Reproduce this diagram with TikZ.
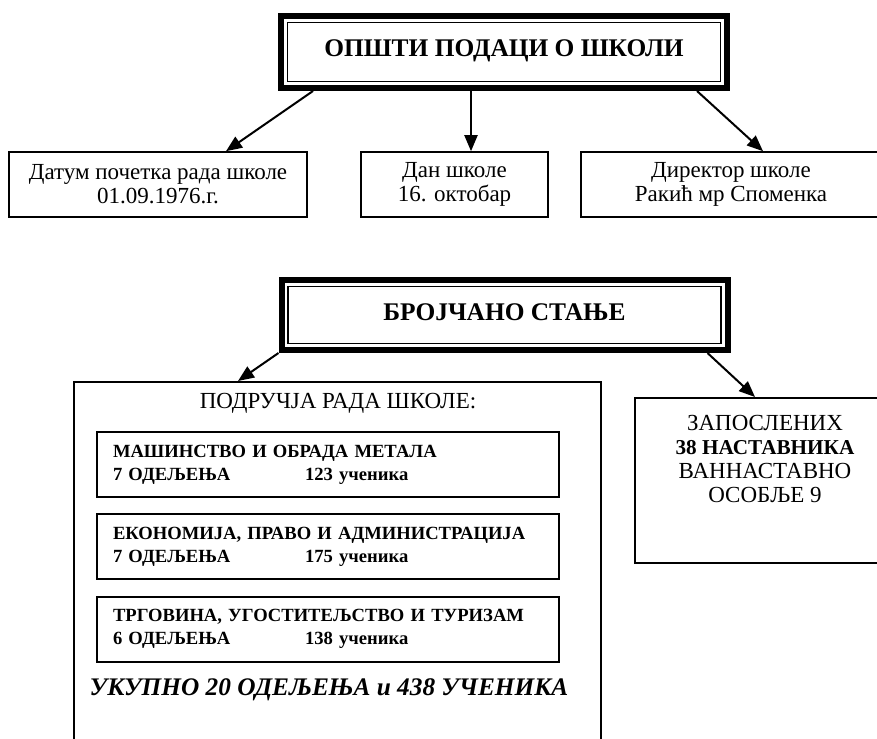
\documentclass[tikz,border=0pt]{standalone}
\usepackage{fontspec}
\setmainfont{Liberation Serif}
\usepackage{tikz}
\usetikzlibrary{positioning, calc}
\usetikzlibrary{arrows.meta}

\tikzset{
	naslov/.style={draw, line width=3pt, minimum width=223pt, inner sep=0pt, font=\fontsize{12.7}{14}\selectfont\bfseries},
	kutija/.style={draw, line width=0.8pt, minimum height=32.5pt, inner sep=0pt, align=center, font=\fontsize{11.5}{12}\selectfont},
	okvir/.style={draw, line width=1pt, inner sep=0pt},
	podrucje/.style={draw, line width=1pt, minimum height=32.5pt, text width=215pt, inner xsep=8pt, inner ysep=0pt, align=left, font=\fontsize{9.3}{11.5}\selectfont\bfseries},
	strelica/.style={line width=1pt, -{Triangle[length=8pt, width=6.5pt]}}
}

\begin{document}
\begin{tikzpicture}[x=0.5pt, y=-0.5pt]
	\path[use as bounding box, clip] (0,0) rectangle (877,738);
	
	% Draw top part
	\node[naslov, minimum height=36pt, text depth=4pt] (opsti) at (504,52) {ОПШТИ ПОДАЦИ О ШКОЛИ};
	\node[kutija, minimum width=149pt] (datum) at (158,184.5) {Датум почетка рада школе\\ 01.09.1976.г.};
	\node[kutija, minimum width=93.5pt] (dan) at (454.5,184.5) {Дан школе\\ 16. октобар};
	\node[kutija, minimum width=150pt] (direktor) at (731,184.5) {Директор школе\\ Ракић мр Споменка};
	
	% Draw bottom part
	\node[naslov, minimum height=35pt, text depth=3pt] (brojcano) at (504.5,315) {БРОЈЧАНО СТАЊЕ};
	\node[okvir, minimum width=263.5pt, minimum height=189pt] (skola) at (337.5,571) {};
	\node[font=\fontsize{11.5}{14}\selectfont, inner sep=0pt] (naziv) at (338,403) {ПОДРУЧЈА РАДА ШКОЛЕ:};
	\node[okvir, minimum width=130pt, minimum height=82.5pt] (zaposleni) at (765,480.5) {};
	\node[below=9pt of zaposleni.north, inner sep=0pt, align=center, font=\fontsize{11.5}{12}\selectfont] (zaposlenitekst)
		{ЗАПОСЛЕНИХ\\ {\fontsize{10.6}{12}\selectfont\bfseries 38 НАСТАВНИКА}\\ ВАННАСТАВНО\\ ОСОБЉЕ 9};
	
	% Inner boxes
	\foreach \ime/\y/\smer/\odel/\uc in {
		masinstvo/464.5/{МАШИНСТВО И ОБРАДА МЕТАЛА}/7/123,
		ekonomija/546.5/{ЕКОНОМИЈА, ПРАВО И АДМИНИСТРАЦИЈА}/7/175,
		trgovina/629/{ТРГОВИНА, УГОСТИТЕЉСТВО И ТУРИЗАМ}/6/138}
	\node[podrucje] (\ime) at (328,\y) {\smer\\ \makebox[96pt][l]{\odel{} ОДЕЉЕЊА}\uc{} ученика};
	
	\node[font=\fontsize{12.65}{15}\selectfont\bfseries\itshape, inner sep=0pt] (ukupno) at (329,690) {УКУПНО 20 ОДЕЉЕЊА и 438 УЧЕНИКА};
	
	% Draw inner thin lines of the titles
	\foreach \t in {opsti, brojcano}
	\draw[line width=0.75pt] ($(\t.south west)+(9.5,-9.5)$) rectangle ($(\t.north east)+(-9.5,9.5)$);
	
	% Draw arrows
	\draw[strelica] ($(opsti.south west)+(35,0)$) -- ($(datum.north)+(68,0)$);
	\draw[strelica] ($(opsti.south)+(-33,0)$) -- ($(dan.north)+(16.5,0)$);
	\draw[strelica] ($(opsti.south east)+(-33,0)$) -- ($(direktor.north)+(32,0)$);
	\draw[strelica] (brojcano.south west) -- ($(skola.north)+(-99.5,0)$);
	\draw[strelica] ($(brojcano.south east)+(-23,0)$) -- ($(zaposleni.north)+(-10,0)$);
	
\end{tikzpicture}
\end{document}
